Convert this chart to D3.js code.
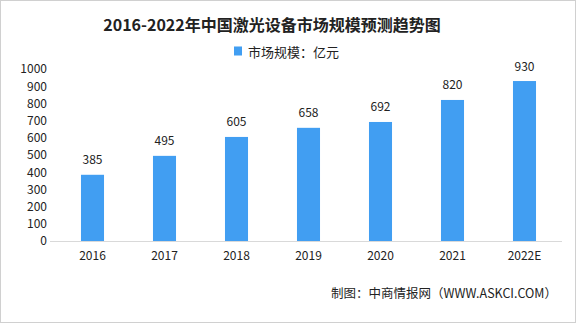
<!DOCTYPE html>
<html><head><meta charset="utf-8">
<script src="https://cdn.jsdelivr.net/npm/d3@7"></script>
<style>body{margin:0;background:#fff}svg{display:block}</style>
</head><body>
<script>
const categories = ["2016","2017","2018","2019","2020","2021","2022E"];
const values = [385,495,605,658,692,820,930];
const yTicks = [0,100,200,300,400,500,600,700,800,900,1000];
const title = "2016-2022年中国激光设备市场规模预测趋势图";
const legendLabel = "市场规模：亿元";
const source = "制图：中商情报网（WWW.ASKCI.COM）";

const W=576,H=323;
const font = "'Noto Sans CJK SC', 'DejaVu Sans', sans-serif";
const svg=d3.select("body").append("svg").attr("width",W).attr("height",H);
svg.append("rect").attr("x",0.5).attr("y",0.5).attr("width",W-1).attr("height",H-1)
  .attr("fill","#fff").attr("stroke","#d0d0d0");

const x=d3.scaleBand().domain(categories).range([56.5,560.5]).paddingInner(0.68).paddingOuter(0.34);
const y=d3.scaleLinear().domain([0,1000]).range([241,69]);
const color="#419ef2";

svg.append("text").attr("x",272).attr("y",24).attr("text-anchor","middle").attr("dominant-baseline","central")
  .attr("font-family",font).attr("font-weight","bold").attr("font-size",16).attr("fill","#222").text(title);

svg.append("rect").attr("x",234).attr("y",46.5).attr("width",8).attr("height",9).attr("fill",color);
svg.append("text").attr("x",248).attr("y",51).attr("dominant-baseline","central")
  .attr("font-family",font).attr("font-size",13).attr("fill","#222").text(legendLabel);

// y axis labels
const ya=svg.append("g").attr("transform","translate(47,0)")
  .call(d3.axisLeft(y).tickValues(yTicks).tickSize(0).tickPadding(0).tickFormat(d3.format("d")));
ya.select(".domain").remove();
ya.selectAll("text").attr("font-family",font).attr("font-size",12).attr("fill","#222");

// bars
svg.append("g").selectAll("rect").data(categories).join("rect")
  .attr("x",d=>x(d)).attr("width",x.bandwidth())
  .attr("y",(d,i)=>y(values[i])).attr("height",(d,i)=>y(0)-y(values[i])).attr("fill",color);

// baseline / x axis
const xa=svg.append("g").attr("transform","translate(0,241)")
  .call(d3.axisBottom(x).tickSize(0).tickPadding(10));
xa.select(".domain").attr("stroke","#d9d9d9").attr("d","M50,0.5H562");
xa.selectAll("text").attr("font-family",font).attr("font-size",12).attr("fill","#222");

// value labels
svg.append("g").selectAll("text").data(categories).join("text")
  .attr("x",d=>x(d)+x.bandwidth()/2).attr("y",(d,i)=>y(values[i])-16)
  .attr("text-anchor","middle").attr("dominant-baseline","central")
  .attr("font-family",font).attr("font-size",12).attr("fill","#222")
  .text((d,i)=>values[i]);

svg.append("text").attr("x",557).attr("y",292).attr("text-anchor","end").attr("dominant-baseline","central")
  .attr("font-family",font).attr("font-size",12.5).attr("fill","#222").text(source);
</script>
</body></html>
